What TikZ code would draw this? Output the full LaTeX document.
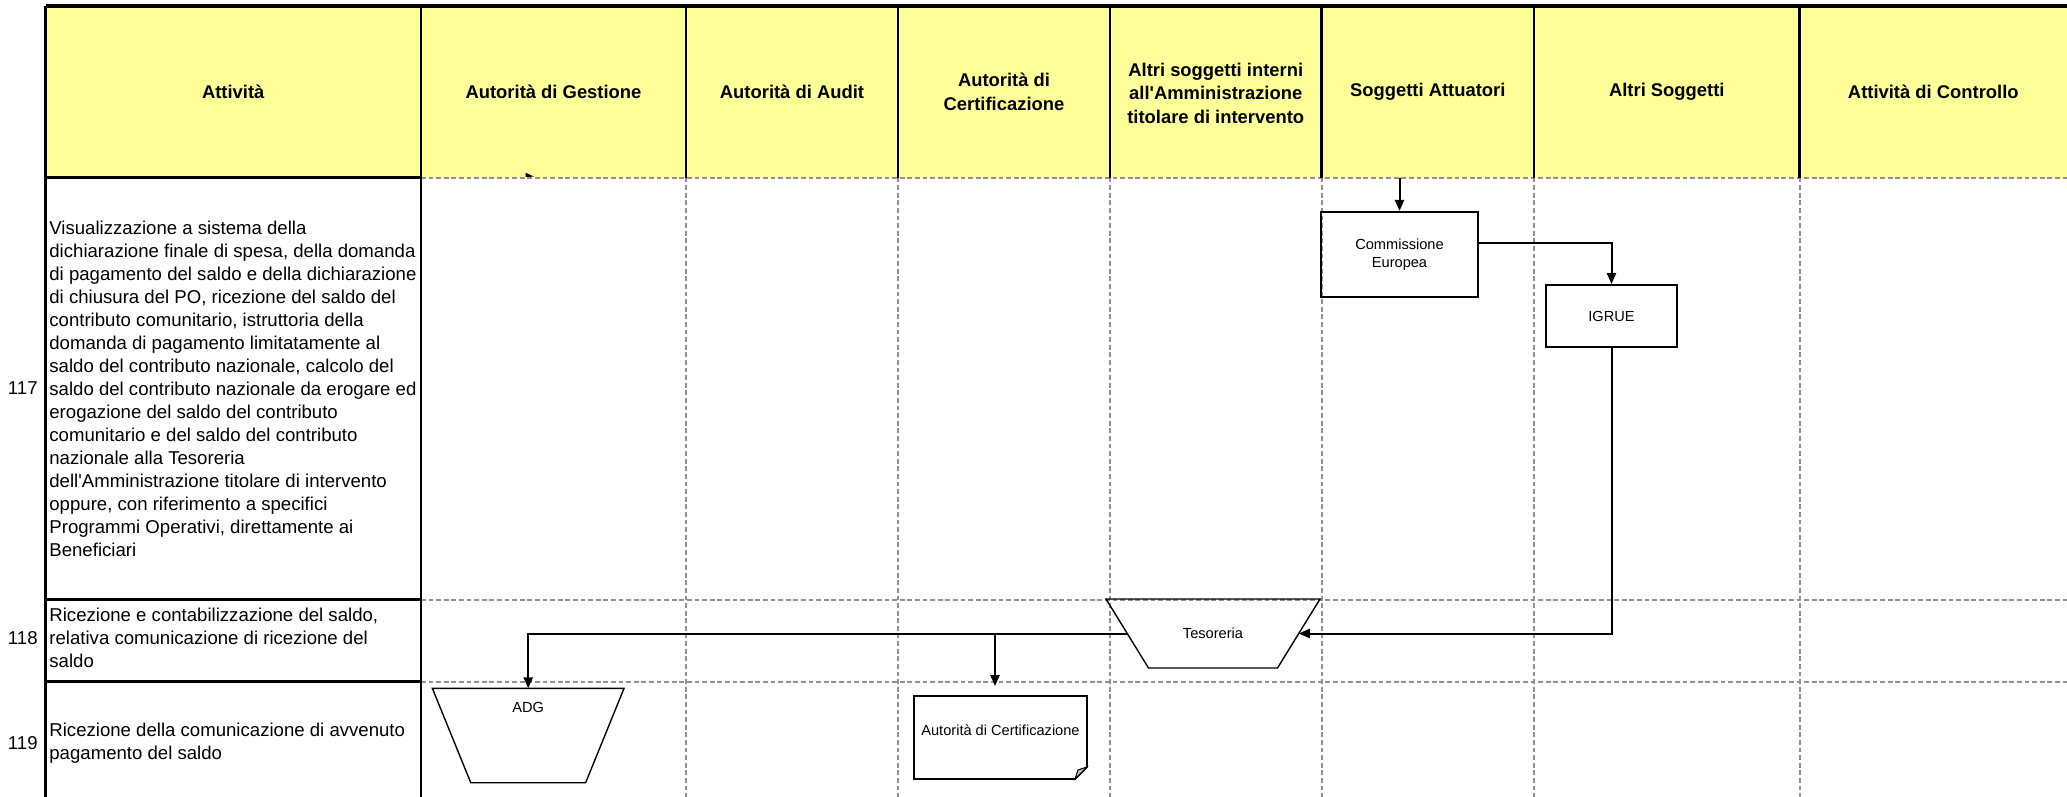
\documentclass[tikz,border=0pt]{standalone}
\usepackage{fontspec}
\setmainfont{Liberation Sans}
\newfontfamily\arialfont{Liberation Sans}
\usepackage{tikz}
\usetikzlibrary{arrows.meta}
\definecolor{pcyellow}{RGB}{255,255,153}
\definecolor{pcgray}{RGB}{145,145,145}
\definecolor{pcfold}{RGB}{190,190,190}
\tikzstyle{arrow} = [line width=1pt,-{Triangle[length=5.5pt,width=4.6pt]}]
\tikzstyle{tableline} = [line width=1.2pt, color=black]
\tikzstyle{lane} = [line width=1pt, color=pcgray, dash pattern=on 2.4pt off 1.4pt]
\tikzstyle{header} = [font=\arialfont\fontsize{9.2}{11.7}\selectfont\bfseries, align=center]
\tikzstyle{activity} = [font=\arialfont\fontsize{9.3}{11.5}\selectfont, align=left, anchor=west, inner sep=0pt]
\tikzstyle{rownum} = [font=\arialfont\fontsize{9.3}{11.5}\selectfont, anchor=east, inner sep=0pt]
\tikzstyle{flowbox} = [rectangle, draw, line width=1pt, align=center, font=\arialfont\fontsize{7.3}{9}\selectfont]
\tikzstyle{slot} = [rectangle, inner sep=0pt, outer sep=0pt, font=\arialfont\fontsize{7.3}{9}\selectfont]
\tikzstyle{outline} = [line width=0.7pt]
\tikzstyle{smalltext} = [font=\arialfont\fontsize{7.3}{9}\selectfont, inner sep=0pt]

\begin{document}
\begin{tikzpicture}[x=0.5pt, y=-0.5pt]
    \useasboundingbox (0,0) rectangle (2067,797);

    % Header
    \fill[pcyellow] (45.5,6) rectangle (2067,177.5);

    % Lanes
    \draw[lane] (421,177.5) -- (2067,177.5);
    \draw[lane] (421,599.5) -- (2067,599.5);
    \draw[lane] (421,681.5) -- (2067,681.5);
    \draw[lane] (686,177.5) -- (686,797);
    \draw[lane] (898,177.5) -- (898,797);
    \draw[lane] (1110,177.5) -- (1110,797);
    \draw[lane] (1321.5,177.5) -- (1321.5,797);
    \draw[lane] (1534,177.5) -- (1534,797);
    \draw[lane] (1799.6,177.5) -- (1799.6,797);
    \fill (525.7,172.7) -- (534,176.6) -- (525.7,177) -- cycle;

    % Table
    \draw[tableline, line width=1.6pt] (45.5,6) -- (2067,6);
    \draw[tableline] (45.5,6) -- (45.5,797);
    \draw[tableline] (421,6) -- (421,797);
    \draw[tableline] (686,6) -- (686,177.5);
    \draw[tableline] (898,6) -- (898,177.5);
    \draw[tableline] (1110,6) -- (1110,177.5);
    \draw[tableline] (1321.5,6) -- (1321.5,177.5);
    \draw[tableline] (1534,6) -- (1534,177.5);
    \draw[tableline] (1799.6,6) -- (1799.6,177.5);
    \draw[tableline] (45.5,177.5) -- (421,177.5);
    \draw[tableline] (45.5,599.5) -- (421,599.5);
    \draw[tableline] (45.5,681.5) -- (421,681.5);

    \node[header] (hatt) at (233.25,92) {Attività};
    \node[header] (hadg) at (553.5,92) {Autorità di Gestione};
    \node[header] (haud) at (792,92) {Autorità di Audit};
    \node[header] (hcert) at (1004,92) {Autorità di\\Certificazione};
    \node[header] (haltri) at (1215.75,93.3) {Altri soggetti interni\\all'Amministrazione\\titolare di intervento};
    \node[header] (hsa) at (1427.75,92) {Soggetti Attuatori};
    \node[header] (has) at (1666.8,92) {Altri Soggetti};
    \node[header] (hctrl) at (1933.3,92) {Attività di Controllo};

    % Rows
    \node[rownum] (n117) at (38,388) {117};
    \node[activity] (a117) at (49,389) {Visualizzazione a sistema della\\dichiarazione finale di spesa, della domanda\\di pagamento del saldo e della dichiarazione\\di chiusura del PO, ricezione del saldo del\\contributo comunitario, istruttoria della\\domanda di pagamento limitatamente al\\saldo del contributo nazionale, calcolo del\\saldo del contributo nazionale da erogare ed\\erogazione del saldo del contributo\\comunitario e del saldo del contributo\\nazionale alla Tesoreria\\dell'Amministrazione titolare di intervento\\oppure, con riferimento a specifici\\Programmi Operativi, direttamente ai\\Beneficiari};
    \node[rownum] (n118) at (38,638.3) {118};
    \node[activity] (a118) at (49,638.3) {Ricezione e contabilizzazione del saldo,\\relativa comunicazione di ricezione del\\saldo};
    \node[rownum] (n119) at (38,743.3) {119};
    \node[activity] (a119) at (49,743.3) {Ricezione della comunicazione di avvenuto\\pagamento del saldo};

    % Commissione Europea
    \node[flowbox, minimum width=78.5pt, minimum height=42.5pt] (ce) at (1399.5,254.4) {Commissione\\Europea};

    % IGRUE
    \node[flowbox, minimum width=65.5pt, minimum height=31pt] (igrue) at (1611.5,316) {IGRUE};

    % Tesoreria
    \node[slot, minimum width=107pt, minimum height=34.5pt] (tes) at (1213,633.5) {Tesoreria};
    \draw[outline] (tes.north west) -- (tes.north east) -- ([xshift=-21.25pt]tes.south east) -- ([xshift=21.25pt]tes.south west) -- cycle;

    % ADG
    \node[slot, minimum width=95.85pt, minimum height=47.2pt] (adg) at (528.2,735.5) {};
    \draw[outline] (adg.north west) -- (adg.north east) -- ([xshift=-19.2pt]adg.south east) -- ([xshift=19.2pt]adg.south west) -- cycle;
    \node[smalltext] (adgtext) at ([yshift=14pt]adg.center) {ADG};

    % Autorita di Certificazione
    \node[slot, minimum width=86.5pt, minimum height=41.5pt] (ac) at (1000.5,737.5) {};
    \draw[line width=0.9pt] (ac.north west) -- (ac.north east) -- ([yshift=6pt]ac.south east) -- ([xshift=-6pt]ac.south east) -- (ac.south west) -- cycle;
    \filldraw[fill=pcfold, line width=0.5pt] ([yshift=6pt]ac.south east) -- ([xshift=-6pt]ac.south east) -- ([xshift=-4.5pt,yshift=4.5pt]ac.south east) -- cycle;
    \node[smalltext] (actext) at ([yshift=3.75pt]ac.center) {Autorità di Certificazione};

    % Arrows
    \coordinate (cein) at (1399.5,177.5);
    \coordinate (split) at (995,633.5);
    \draw[arrow] (cein) -- (ce);
    \draw[arrow] ([yshift=5.85pt]ce.east) -| (igrue);
    \draw[arrow] (igrue) |- ([xshift=-10.6pt]tes.east);
    \draw[arrow] ([xshift=10.6pt]tes.west) -| (adg);
    \draw[arrow, shorten >=5pt] (split) -- (split |- ac.north);
\end{tikzpicture}
\end{document}
